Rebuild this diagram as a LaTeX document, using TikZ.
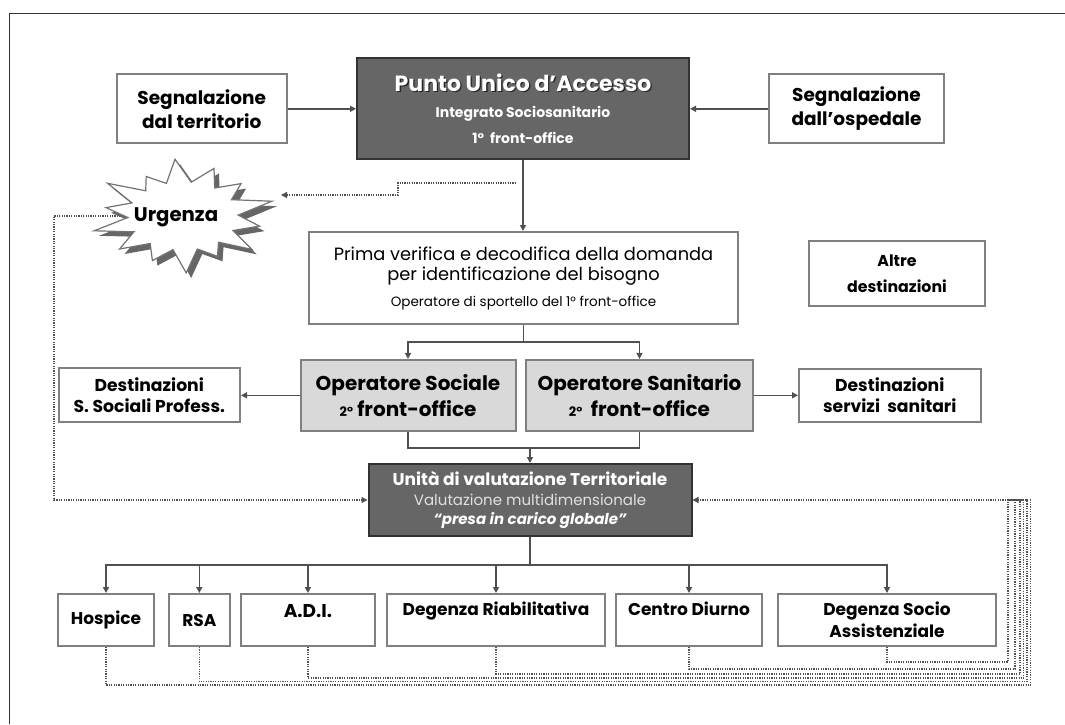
\documentclass[tikz,border=0pt]{standalone}
\usepackage{fontspec}
\setmainfont{Poppins}
\usetikzlibrary{arrows.meta,calc}
\definecolor{darkfill}{HTML}{666666}
\definecolor{darkedge}{HTML}{333333}
\definecolor{boxedge}{HTML}{808080}
\definecolor{lightfill}{HTML}{D9D9D9}
\definecolor{linecol}{HTML}{505050}
\definecolor{paletext}{HTML}{E0E0E0}
\newcommand\fs[2]{\fontsize{#1}{#2}\selectfont}
\newcommand\embossed[1]{\leavevmode\rlap{\kern1.3pt\raisebox{-1.3pt}{\color{black!85}#1}}#1}

\begin{document}
\begin{tikzpicture}[x=1pt,y=-1pt,
  box/.style={draw=boxedge, line width=2pt, fill=white, align=center, inner sep=0pt, text=black},
  darkbox/.style={draw=darkedge, line width=2pt, fill=darkfill, align=center, inner sep=0pt, text=white},
  greybox/.style={box, fill=lightfill},
  bottombox/.style={box, minimum height=52pt, font=\bfseries\fs{17}{22}},
  wire/.style={draw=linecol, line width=1.6pt},
  conn/.style={wire, -{Triangle[length=6pt,width=6pt]}},
  dots/.style={draw=linecol, line width=1.3pt, dash pattern=on 1.2pt off 1.2pt},
  dotarrow/.style={dots, -{Triangle[length=6pt,width=6pt]}}]

\useasboundingbox (0,0) rectangle (1065,724);
% page frame
\draw[line width=1.2pt, draw=black!80] (9.5,724) -- (9.5,13.5) -- (1065,13.5);

% top row
\node[darkbox, minimum width=332pt, minimum height=101pt, font=\bfseries\fs{14}{26}] (pua) at (523,108.5)
  {{\fs{22}{26}\embossed{Punto Unico d’Accesso}}\\Integrato Sociosanitario\\1°\ \ front-office};
\node[box, minimum width=169.5pt, minimum height=69pt, font=\bfseries\fs{18.5}{24}] (terr) at (201.75,108.8)
  {Segnalazione\\dal territorio};
\node[box, minimum width=175pt, minimum height=69pt, font=\bfseries\fs{18.5}{24}] (osp) at (856.5,108.8)
  {Segnalazione\\dall’ospedale};

% first check
\node[box, minimum width=429pt, minimum height=92pt, font=\fs{17.8}{20}] (prima) at (523.5,278)
  {Prima verifica e decodifica della domanda\\per identificazione del bisogno\\[6pt]{\fs{13.5}{14}Operatore di sportello del 1° front-office}};
\node[box, minimum width=175.5pt, minimum height=65pt, font=\bfseries\fs{15.8}{26}] (altre) at (897,273.5)
  {Altre\\destinazioni};

% second front-office
\node[greybox, minimum width=215pt, minimum height=70.7pt, font=\bfseries\fs{20}{26}] (opsoc) at (408,395.3)
  {Operatore Sociale\\{\fs{13}{13}2°}\ front-office};
\node[greybox, minimum width=227pt, minimum height=70.7pt, font=\bfseries\fs{20}{26}] (opsan) at (639.5,395.3)
  {Operatore Sanitario\\{\fs{13}{13}2°}\ \ front-office};
\node[box, minimum width=181.5pt, minimum height=54pt, font=\bfseries\fs{17.2}{21}] (dsoc) at (149.25,395.3)
  {Destinazioni\\S. Sociali Profess.};
\node[box, minimum width=181.5pt, minimum height=53pt, font=\bfseries\fs{17.2}{21}] (dsan) at (889.75,395.3)
  {Destinazioni\\servizi\ \ sanitari};

% territorial evaluation unit
\node[darkbox, minimum width=323pt, minimum height=72pt, font=\fs{15}{19.2}] (uvt) at (530,500)
  {{\bfseries\fs{17}{19.2}Unità di valutazione Territoriale}\\{\color{paletext}Valutazione multidimensionale}\\{\bfseries\itshape “presa in carico globale”}};

% services
\node[bottombox, minimum width=96pt]    (hosp)   at (106,620)   {Hospice};
\node[bottombox, minimum width=61.3pt]  (rsa)    at (199.3,620) {RSA};
\node[bottombox, minimum width=133.7pt] (adi)    at (307.9,620) {\fs{18.5}{18}A.D.I.\\[-3pt]};
\node[bottombox, minimum width=218.5pt] (riab)   at (496,620)   {Degenza Riabilitativa\\[-5pt]\strut};
\node[bottombox, minimum width=146.7pt] (centro) at (689,620)   {Centro Diurno\\[-5pt]\strut};
\node[bottombox, minimum width=218pt]   (socio)  at (887,620)   {Degenza Socio\\Assistenziale};

% solid flow
\draw[conn] (terr.east) -- (terr.east -| pua.west);
\draw[conn] (osp.west) -- (osp.west -| pua.east);
\draw[conn] (pua.south) -- (pua.south |- prima.north);
\coordinate (fork1) at (523.5,341.7);
\draw[wire] (prima.south) -- (fork1);
\draw[conn] (fork1) -| (opsoc.north);
\draw[conn] (fork1) -| (opsan.north);
\draw[conn] (opsoc.west) -- (opsoc.west -| dsoc.east);
\draw[conn] (opsan.east) -- (opsan.east -| dsan.west);
\coordinate (join1) at (530,447.7);
\draw[wire] (opsoc.south) |- (join1) -| (opsan.south);
\draw[conn] (join1) -- (uvt.north);
\coordinate (fork2) at (530,565);
\draw[wire] (uvt.south) -- (fork2);
\foreach \n in {hosp,rsa,adi,riab,centro,socio}
  \draw[conn] (fork2) -| (\n.north);

% dotted paths: urgent route
\coordinate (pudot) at (516,183);
\coordinate (urgE) at (281,195);
\coordinate (urgW) at (130,216);
\draw[dotarrow] (pudot) -- (398,183) -- (398,195) -- (urgE);
\draw[dotarrow] (urgW) -- (54,216) |- (uvt.west);

% dotted return paths to the evaluation unit
\coordinate (back) at (1008,500);
\draw[dotarrow] (socio.south) |- (1008,662) -- (back) -- (back -| uvt.east);
\draw[dots] (centro.south) |- (1015,669) |- (back);
\draw[dots] (riab.south) |- (1020,674) |- (back);
\draw[dots] (adi.south) |- (1023.5,678) |- (back);
\draw[dots] (rsa.south) |- (1027,681.5) |- (back);
\draw[dots] (hosp.south) |- (1030.5,685) |- (back);

% urgency burst with its extruded shade
\def\burst{(271.9,201.2) -- (238.2,215.1) -- (259.5,226.1) -- (233,230.5) -- (251.9,249.4) -- (218.5,242.2) -- (217.5,256.3) -- (197.3,249) -- (186.2,272.9) -- (173,249.6) -- (152.4,260.6) -- (150.2,243.5) -- (119.6,249) -- (134,231.8) -- (94.1,230.8) -- (127.9,217.5) -- (106,207.6) -- (132,202.9) -- (107.6,183.3) -- (145.7,190.8) -- (146.2,176.5) -- (166.4,183.4) -- (175,159.2) -- (191.2,182.2) -- (214,168.4) -- (214.7,188) -- (241.1,183.6) -- (231.5,199.7) -- cycle}
\begin{scope}[shift={(5,5)}]
  \fill[black!60] \burst;
\end{scope}
\filldraw[fill=white, draw=black!55, line width=1.2pt] \burst;
\node[font=\bfseries\fs{19.7}{19.7}] (urg) at (176,217) {Urgenza};

\end{tikzpicture}
\end{document}
